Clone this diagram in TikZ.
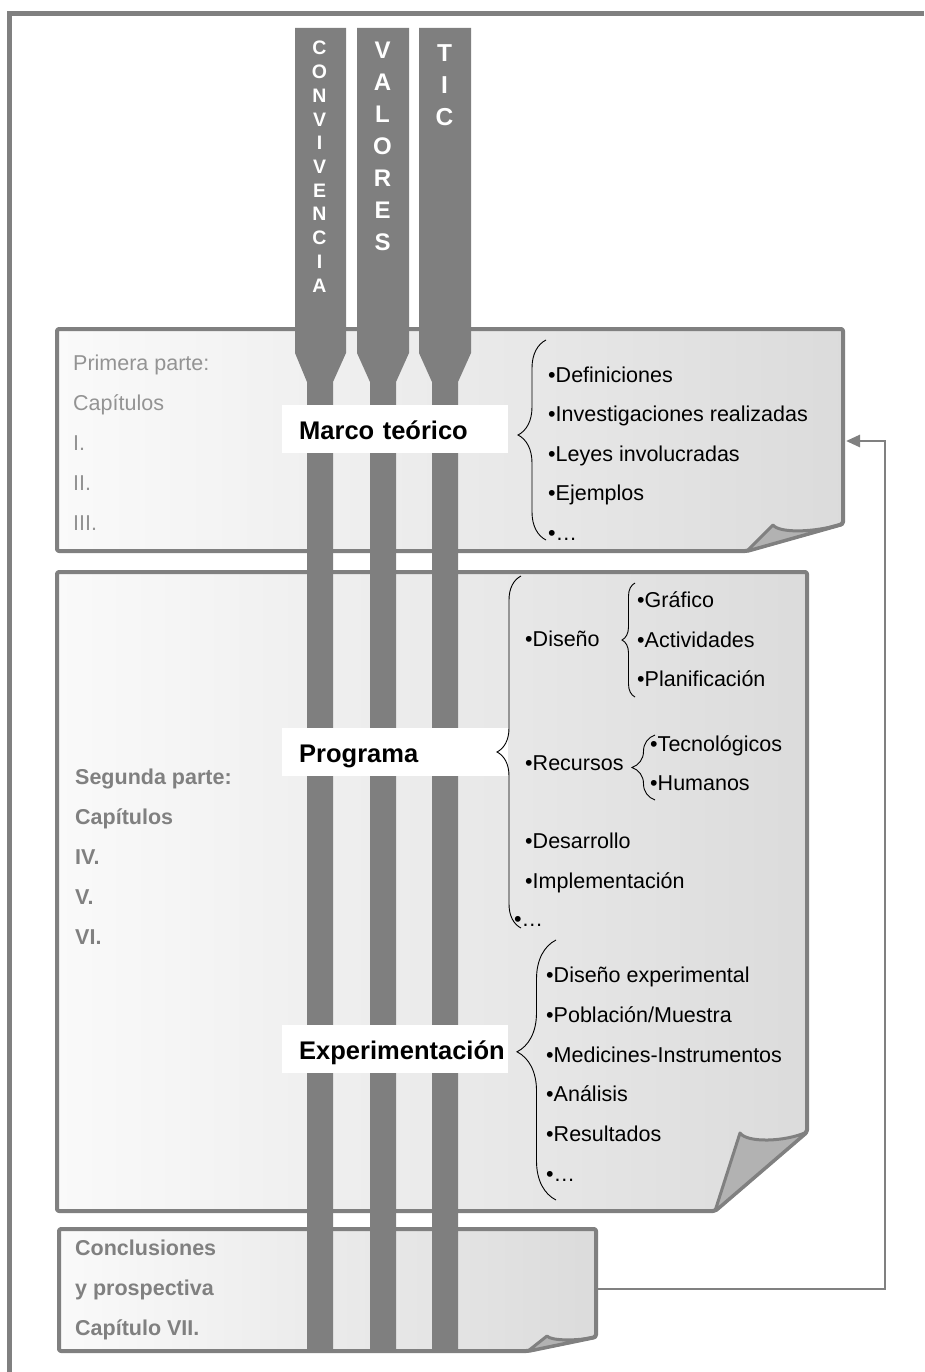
\documentclass[tikz,border=0pt]{standalone}
\usepackage{fontspec}
\setmainfont{Liberation Sans}
\usetikzlibrary{decorations.pathreplacing,arrows.meta}

\definecolor{frame}{HTML}{808080}
\definecolor{softtext}{HTML}{939393}
\definecolor{pillar}{HTML}{7F7F7F}

\tikzset{
  sheet/.style={draw=frame, line width=4pt, line join=round, rounded corners=2pt,
                left color=black!2, right color=black!14},
  curl/.style={draw=frame, line width=3pt, line join=round, fill=black!30},
  pillarshape/.style={fill=pillar},
  letter/.style={anchor=base, inner sep=0pt, text=white, font=\bfseries\fontsize{#1}{#1}\selectfont},
  lbl/.style={fill=white, anchor=base west, inner xsep=17pt, inner ysep=0pt,
              text width=192pt, text height=22pt, text depth=2pt, minimum height=48pt,
              align=left, font=\bfseries\fontsize{25.5}{28}\selectfont},
  itm/.style={anchor=base west, inner sep=0pt, font=\fontsize{21.5}{25}\selectfont},
  parttext/.style={anchor=base west, inner sep=0pt, text=softtext, font=\fontsize{21.5}{25}\selectfont},
  partbold/.style={anchor=base west, inner sep=0pt, text=frame, font=\bfseries\fontsize{21.5}{25}\selectfont},
  brc/.style 2 args={decorate, decoration={brace, amplitude=#1, aspect=#2}, line width=0.9pt, black},
  conn/.style={draw=frame, line width=2.8pt, -{Triangle[length=14pt, width=12pt]}},
}

\begin{document}
\begin{tikzpicture}[x=1pt,y=-1pt]
\useasboundingbox (0,0) rectangle (924,1372);

% outer frame
\draw[frame, line width=5pt] (9.5,1372) -- (9.5,13.5) -- (924,13.5);

% first part sheet
\path[sheet] (57,329) -- (843,329) -- (843,524) -- (747,551) -- (57,551) -- cycle;
\path[curl] (747,551) -- (773,525) .. controls (779,533) and (812,533) .. (843,524) -- cycle;

% second part sheet
\path[sheet] (57,572) -- (807,572) -- (807,1132) -- (715,1211) -- (57,1211) -- cycle;
\path[curl] (715,1211) -- (740,1133) .. controls (747,1143) and (785,1142) .. (807,1132) -- cycle;

% conclusions sheet
\path[sheet] (59,1229) -- (596,1229) -- (596,1337) -- (528,1351) -- (59,1351) -- cycle;
\path[curl] (528,1351) -- (547,1336) .. controls (551,1341) and (578,1341) .. (596,1337) -- cycle;

% the three transversal pillars
\fill[pillarshape] (295,28) -- (346,28) -- (346,353) -- (333,382) -- (333,1350) -- (307,1350) -- (307,382) -- (295,353) -- cycle;
\fill[pillarshape] (357,28) -- (409,28) -- (409,353) -- (396,382) -- (396,1350) -- (370,1350) -- (370,382) -- (357,353) -- cycle;
\fill[pillarshape] (419,28) -- (471,28) -- (471,353) -- (458,382) -- (458,1350) -- (432,1350) -- (432,382) -- (419,353) -- cycle;

\foreach \ch [count=\i] in {C,O,N,V,I,V,E,N,C,I,A}
  \node[letter=19.5] (conv\i) at (319.5,{55+(\i-1)*23.7}) {\ch};
\foreach \ch [count=\i] in {V,A,L,O,R,E,S}
  \node[letter=24] (val\i) at (382.5,{58.5+(\i-1)*32}) {\ch};
\foreach \ch [count=\i] in {T,I,C}
  \node[letter=24.5] (tic\i) at (444.5,{61.5+(\i-1)*32}) {\ch};

% first part
\node[parttext] (p1a) at (73,370) {Primera parte:};
\node[parttext] (p1b) at (73,410) {Capítulos};
\node[parttext] (p1c) at (73,450) {I.};
\node[parttext] (p1d) at (73,490) {II.};
\node[parttext] (p1e) at (73,530) {III.};

\node[lbl] (marco) at (282,439) {Marco teórico};
\draw[brc={28}{0.525}] (546,540) -- (546,340);
\node[itm] (m1) at (548,382) {•Definiciones};
\node[itm] (m2) at (548,421) {•Investigaciones realizadas};
\node[itm] (m3) at (548,461) {•Leyes involucradas};
\node[itm] (m4) at (548,500) {•Ejemplos};
\node[itm] (m5) at (548,540) {•…};

% second part
\node[partbold] (p2a) at (75,784) {Segunda parte:};
\node[partbold] (p2b) at (75,824) {Capítulos};
\node[partbold] (p2c) at (75,864) {IV.};
\node[partbold] (p2d) at (75,904) {V.};
\node[partbold] (p2e) at (75,944) {VI.};

\node[lbl] (prog) at (282,762) {Programa};
\draw[brc={24}{0.5}] (521,928) -- (521,576);
\node[itm] (g1) at (525,646) {•Diseño};
\draw[brc={13}{0.5}] (635,697) -- (635,583);
\node[itm] (g1a) at (637,607) {•Gráfico};
\node[itm] (g1b) at (637,647) {•Actividades};
\node[itm] (g1c) at (637,686) {•Planificación};
\node[itm] (g2) at (525,770) {•Recursos};
\draw[brc={23}{0.5}] (655,800) -- (655,735);
\node[itm] (g2a) at (650,751) {•Tecnológicos};
\node[itm] (g2b) at (650,790) {•Humanos};
\node[itm] (g3) at (525,848) {•Desarrollo};
\node[itm] (g4) at (525,888) {•Implementación};
\node[itm] (g5) at (514,926) {•…};

\node[lbl] (expe) at (282,1059) {Experimentación};
\draw[brc={39}{0.57}] (556,1200) -- (556,940);
\node[itm] (e1) at (546,982) {•Diseño experimental};
\node[itm] (e2) at (546,1022) {•Población/Muestra};
\node[itm] (e3) at (546,1062) {•Medicines-Instrumentos};
\node[itm] (e4) at (546,1101) {•Análisis};
\node[itm] (e5) at (546,1141) {•Resultados};
\node[itm] (e6) at (546,1181) {•…};

% conclusions
\node[partbold] (c1) at (75,1255) {Conclusiones};
\node[partbold] (c2) at (75,1295) {y prospectiva};
\node[partbold] (c3) at (75,1335) {Capítulo VII.};

% feedback connector from conclusions back to the theoretical framework
\coordinate (concl-east) at (598,1289);
\coordinate (marco-east) at (846,441);
\coordinate (turn) at (885,1289);
\draw[conn] (concl-east) -- (turn) |- (marco-east);
\end{tikzpicture}
\end{document}
